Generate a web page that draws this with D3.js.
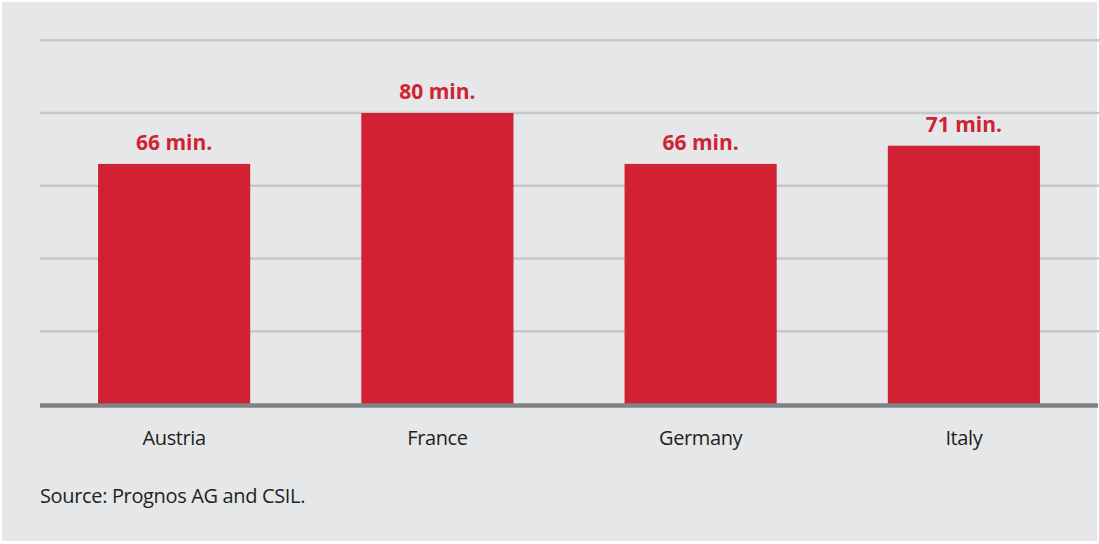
<!DOCTYPE html>
<html>
<head>
<meta charset="utf-8">
<script src="https://cdn.jsdelivr.net/npm/d3@7"></script>
<style>
  body { margin: 0; background: #ffffff; }
  text { font-family: "Open Sans", sans-serif; }
</style>
</head>
<body>
<div id="chart"></div>
<script>
// data
const countries = ["Austria", "France", "Germany", "Italy"];
const minutes = [66, 80, 66, 71];
const gridTicks = [20, 40, 60, 80, 100];
const sourceNote = "Source: Prognos AG and CSIL.";

const width = 1099, height = 544;

const svg = d3.select("#chart")
    .append("svg")
    .attr("width", width)
    .attr("height", height);

// grey panel
svg.append("rect")
    .attr("x", 2).attr("y", 2)
    .attr("width", width - 4).attr("height", height - 5)
    .attr("fill", "#e6e7e8");

const x = d3.scaleBand()
    .domain(countries)
    .range([42.5, 1095.5])
    .paddingInner(0.422)
    .paddingOuter(0.211);

const y = d3.scaleLinear()
    .domain([0, 100])
    .range([404, 40.25]);

// gridlines
svg.append("g")
    .selectAll("line")
    .data(gridTicks)
    .enter()
    .append("line")
    .attr("x1", 40)
    .attr("x2", 1099)
    .attr("y1", d => y(d))
    .attr("y2", d => y(d))
    .attr("stroke", "#c6c7c9")
    .attr("stroke-width", 2.5);

// bars
svg.append("g")
    .selectAll("rect")
    .data(minutes)
    .enter()
    .append("rect")
    .attr("x", (d, i) => x(countries[i]))
    .attr("y", d => y(d))
    .attr("width", x.bandwidth())
    .attr("height", d => y(0) - y(d))
    .attr("fill", "#d02233");

// baseline
svg.append("line")
    .attr("x1", 40).attr("x2", 1098)
    .attr("y1", y(0) + 1.5).attr("y2", y(0) + 1.5)
    .attr("stroke", "#808285")
    .attr("stroke-width", 4.5);

// value labels
svg.append("g")
    .selectAll("text")
    .data(minutes)
    .enter()
    .append("text")
    .attr("x", (d, i) => x(countries[i]) + x.bandwidth() / 2)
    .attr("y", d => y(d) - 14)
    .attr("text-anchor", "middle")
    .attr("font-size", 21)
    .attr("font-weight", 700)
    .attr("fill", "#d02233")
    .text(d => d + " min.");

// category labels
svg.append("g")
    .selectAll("text")
    .data(countries)
    .enter()
    .append("text")
    .attr("x", d => x(d) + x.bandwidth() / 2)
    .attr("y", 445)
    .attr("text-anchor", "middle")
    .attr("font-size", 20)
    .attr("letter-spacing", -0.4)
    .attr("fill", "#231f20")
    .text(d => d);

svg.append("text")
    .attr("x", 40)
    .attr("y", 503)
    .attr("font-size", 20)
    .attr("letter-spacing", -0.35)
    .attr("fill", "#231f20")
    .text(sourceNote);
</script>
</body>
</html>
